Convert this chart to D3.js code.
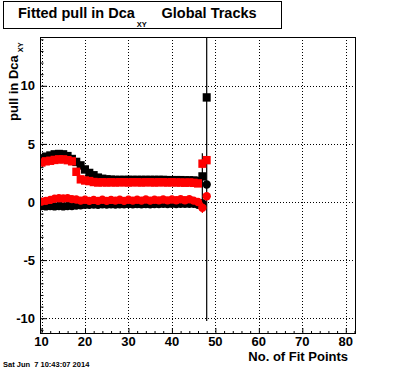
<!DOCTYPE html>
<html>
<head>
<meta charset="utf-8">
<title>Fitted pull in Dca XY</title>
<script src="https://cdn.jsdelivr.net/npm/d3@7"></script>
<style>
  body { margin: 0; background: #fff; }
  svg { display: block; font-family: "Liberation Sans", Arial, sans-serif; }
</style>
</head>
<body>
<div id="viz"></div>
<script>
// fit points (x) shared by every series
var fitPoints = d3.range(10, 49);

// sigma-like upper series
var blackSquares = [3.76, 3.9, 4.0, 4.1, 4.13, 4.1, 3.95, 3.7, 3.45, 3.15, 2.8, 2.5, 2.3, 2.1, 2.0, 1.95,
  1.92, 1.9, 1.9, 1.9, 1.9, 1.9, 1.9, 1.9, 1.9, 1.9, 1.9, 1.9, 1.9, 1.88, 1.88, 1.88, 1.88, 1.86, 1.86, 1.85, 1.8, 2.2, 9.0];
var redSquares = [3.4, 3.5, 3.55, 3.62, 3.67, 3.67, 3.6, 3.5, 2.6, 1.95, 1.85, 1.8, 1.72, 1.68, 1.7, 1.68,
  1.7, 1.68, 1.7, 1.7, 1.68, 1.7, 1.7, 1.68, 1.7, 1.7, 1.68, 1.7, 1.7, 1.68, 1.7, 1.68, 1.68, 1.66, 1.68, 1.65, 1.6, 3.3, 3.6];
// mean-like series near zero
var blackCircles = [-0.35, -0.38, -0.35, -0.38, -0.35, -0.38, -0.35, -0.35, -0.3, -0.28, -0.25, -0.25, -0.22, -0.25, -0.2, -0.22,
  -0.2, -0.22, -0.2, -0.2, -0.18, -0.2, -0.18, -0.2, -0.18, -0.2, -0.18, -0.18, -0.16, -0.18, -0.16, -0.18, -0.16, -0.16, -0.15, -0.15, -0.25, -0.1, 1.5];
var redCircles = [0.03, 0.1, 0.18, 0.28, 0.32, 0.3, 0.33, 0.25, 0.22, 0.12, 0.2, 0.1, 0.18, 0.1, 0.2, 0.1,
  0.18, 0.12, 0.2, 0.1, 0.2, 0.12, 0.2, 0.12, 0.22, 0.12, 0.2, 0.14, 0.22, 0.14, 0.22, 0.15, 0.24, 0.15, 0.24, 0.12, 0.0, -0.5, 0.5];
// error bars (only the last points stand out of the markers)
var blackSquareErr = { 47: 2.0, 48: 19.24 };
var redSquareErr = { 47: 0.4, 48: 0.3 };
var redCircleErr = { 47: 0.45 };

var xTicks = [10, 20, 30, 40, 50, 60, 70, 80];
var yTicks = [-10, -5, 0, 5, 10];

var W = 396, H = 372;
var frame = { left: 40, right: 356, top: 37, bottom: 334 };

var svg = d3.select("#viz").append("svg").attr("width", W).attr("height", H);
svg.append("rect").attr("width", W).attr("height", H).attr("fill", "#fff");

var x = d3.scaleLinear().domain([9.65, 82.35]).range([frame.left, frame.right]);
var y = d3.scaleLinear().domain([-11.36, 14.2]).range([frame.bottom, frame.top]);

// grid
var grid = svg.append("g").attr("stroke", "#000").attr("stroke-width", 1).attr("stroke-dasharray", "1,2");
grid.selectAll(".gx").data(xTicks).enter().append("line")
    .attr("x1", function(d) { return Math.round(x(d)) + 0.5; })
    .attr("x2", function(d) { return Math.round(x(d)) + 0.5; })
    .attr("y1", frame.top).attr("y2", frame.bottom);
grid.selectAll(".gy").data(yTicks).enter().append("line")
    .attr("y1", function(d) { return Math.round(y(d)) + 0.5; })
    .attr("y2", function(d) { return Math.round(y(d)) + 0.5; })
    .attr("x1", frame.left).attr("x2", frame.right);

// axes (ticks point inside the frame, like ROOT)
var xAxis = svg.append("g").attr("transform", "translate(0," + frame.bottom + ")")
    .call(d3.axisBottom(x).tickValues(d3.range(10, 83, 2)).tickSize(-3).tickFormat(""));
xAxis.selectAll(".tick line").filter(function(d) { return d % 10 === 0; }).attr("y2", -6);
xAxis.select(".domain").remove();
xAxis.selectAll("line").attr("stroke", "#000");

var yAxis = svg.append("g").attr("transform", "translate(" + frame.left + ",0)")
    .call(d3.axisLeft(y).tickValues(d3.range(-11, 15, 1)).tickSize(-3.5).tickFormat(""));
yAxis.selectAll(".tick line").filter(function(d) { return d % 5 === 0; }).attr("x2", 7);
yAxis.select(".domain").remove();
yAxis.selectAll("line").attr("stroke", "#000");

svg.selectAll(".xl").data(xTicks).enter().append("text")
    .attr("x", function(d) { return x(d); }).attr("y", 346)
    .attr("text-anchor", "middle").attr("font-size", 13).attr("font-weight", "bold")
    .text(function(d) { return d; });
svg.selectAll(".yl").data(yTicks).enter().append("text")
    .attr("x", 35).attr("y", function(d) { return y(d); }).attr("dy", "0.36em")
    .attr("text-anchor", "end").attr("font-size", 13).attr("font-weight", "bold")
    .text(function(d) { return d; });

// data
var plot = svg.append("g");
plot.append("clipPath").attr("id", "clip").append("rect")
    .attr("x", frame.left).attr("y", frame.top)
    .attr("width", frame.right - frame.left).attr("height", frame.bottom - frame.top);
var marks = plot.append("g").attr("clip-path", "url(#clip)");

function errBars(vals, errs, color) {
  fitPoints.forEach(function(fp, i) {
    if (errs[fp]) {
      marks.append("line").attr("x1", x(fp)).attr("x2", x(fp))
          .attr("y1", y(vals[i] - errs[fp])).attr("y2", y(vals[i] + errs[fp]))
          .attr("stroke", color).attr("stroke-width", 1.2);
    }
  });
}
function squares(vals, color) {
  marks.selectAll(null).data(vals).enter().append("rect")
      .attr("x", function(d, i) { return x(fitPoints[i]) - 4; })
      .attr("y", function(d) { return y(d) - 4.2; })
      .attr("width", 8).attr("height", 8.4).attr("fill", color);
}
function circles(vals, color) {
  marks.selectAll(null).data(vals).enter().append("circle")
      .attr("cx", function(d, i) { return x(fitPoints[i]); })
      .attr("cy", function(d) { return y(d); })
      .attr("r", 4.2).attr("fill", color);
}
errBars(blackSquares, blackSquareErr, "#000");
squares(blackSquares, "#000");
circles(blackCircles, "#000");
errBars(redSquares, redSquareErr, "#f00");
squares(redSquares, "#f00");
errBars(redCircles, redCircleErr, "#f00");
circles(redCircles, "#f00");

// frame
svg.append("rect").attr("x", frame.left + 0.5).attr("y", frame.top + 0.5)
    .attr("width", frame.right - frame.left - 1).attr("height", frame.bottom - frame.top - 1)
    .attr("fill", "none").attr("stroke", "#000");

// title box
svg.append("rect").attr("x", 3.5).attr("y", 1.5).attr("width", 278).attr("height", 27)
    .attr("fill", "#fff").attr("stroke", "#000");
var title = svg.append("text").attr("x", 18).attr("y", 17.5)
    .attr("font-size", 14.5).attr("font-weight", "bold");
title.append("tspan").text("Fitted pull in Dca");
title.append("tspan").attr("dx", 2).attr("dy", 9).attr("font-size", 7.5).text("XY");
title.append("tspan").attr("x", 161.5).attr("y", 17.5).text("Global Tracks");

// axis titles
var ylab = svg.append("text").attr("transform", "translate(18,121) rotate(-90)")
    .attr("font-size", 13).attr("font-weight", "bold");
ylab.append("tspan").text("pull in Dca");
ylab.append("tspan").attr("dx", 3).attr("dy", 5).attr("font-size", 7.5).text("XY");

svg.append("text").attr("x", 348).attr("y", 361).attr("text-anchor", "end")
    .attr("font-size", 13).attr("font-weight", "bold").text("No. of Fit Points");

svg.append("text").attr("x", 3).attr("y", 367).attr("font-size", 7.5).attr("font-weight", "bold")
    .text("Sat Jun  7 10:43:07 2014").attr("xml:space", "preserve").style("white-space", "pre");
</script>
</body>
</html>
